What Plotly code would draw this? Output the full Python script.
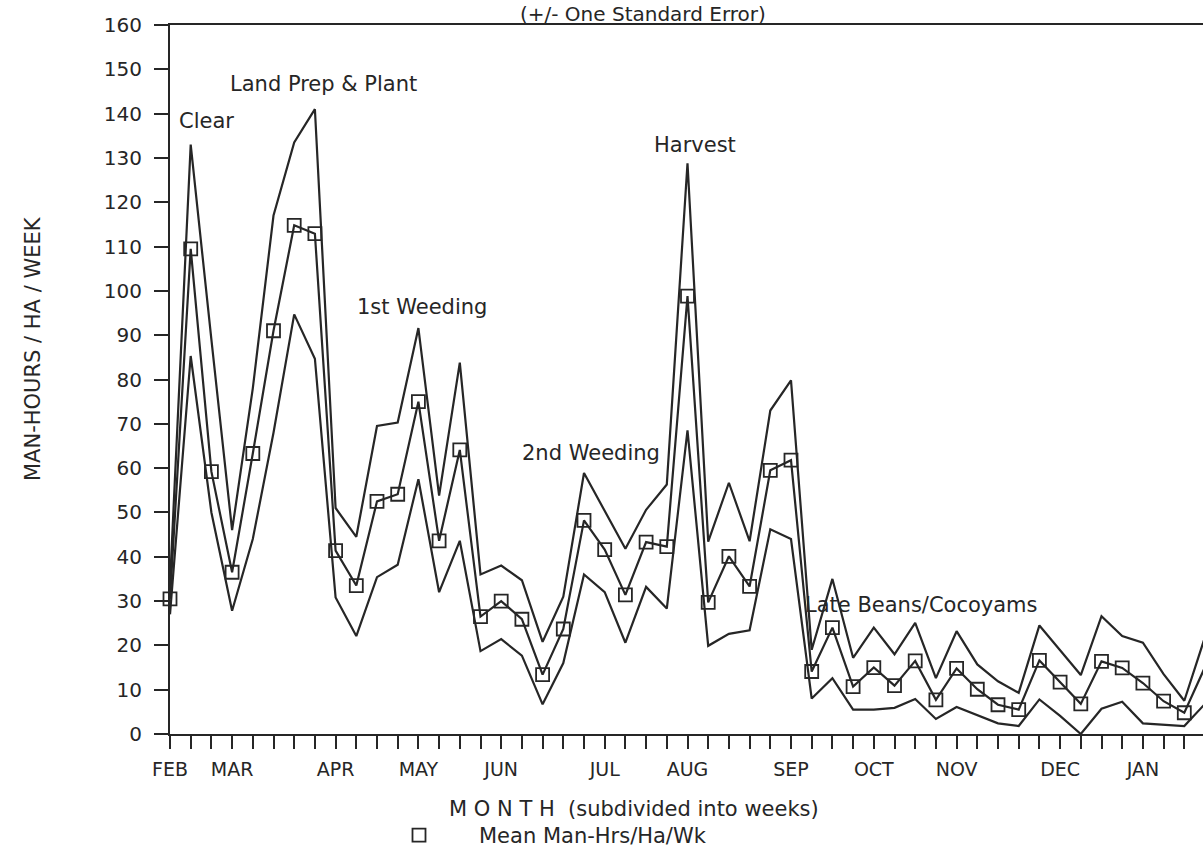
import plotly.graph_objects as go

# ---- data ----
weeks = list(range(51))
month_weeks = [0, 3, 8, 12, 16, 21, 25, 30, 34, 38, 43, 47]
month_names = ["FEB", "MAR", "APR", "MAY", "JUN", "JUL", "AUG", "SEP", "OCT", "NOV", "DEC", "JAN"]

upper = [34, 133, 89, 46, 78, 117, 133.5, 141, 51, 44.5, 69.5, 70.3, 91.6, 53.8, 83.8,
         36, 38, 34.7, 20.8, 31, 58.9, 50.5, 41.8, 50.6, 56.3, 128.8, 43.4, 56.7, 43.5, 73,
         79.8, 19, 35, 17.2, 24, 18, 25.1, 12.6, 23.2, 15.7, 11.9, 9.3, 24.5, 18.9, 13.3,
         26.6, 22.1, 20.6, 13.5, 7.5, 21.9]
mean = [30.5, 109.5, 59.2, 36.5, 63.3, 91, 114.8, 112.9, 41.4, 33.5, 52.5, 54.1, 75, 43.6, 64.1,
        26.5, 30, 25.9, 13.4, 23.7, 48.2, 41.6, 31.4, 43.3, 42.3, 98.8, 29.7, 40.1, 33.3, 59.5,
        61.8, 14.1, 24, 10.7, 15, 10.9, 16.5, 7.7, 14.8, 10.1, 6.6, 5.5, 16.6, 11.7, 6.8,
        16.4, 14.9, 11.5, 7.4, 4.8, 15.1]
lower = [27, 85.3, 50, 27.8, 44, 68, 94.7, 84.7, 30.8, 22.1, 35.4, 38.2, 57.5, 32, 43.6,
         18.7, 21.4, 17.7, 6.7, 16, 36, 32, 20.6, 33.2, 28.3, 68.5, 19.9, 22.6, 23.4, 46.2,
         44, 8, 12.6, 5.5, 5.5, 5.9, 7.9, 3.4, 6.1, 4.3, 2.4, 1.8, 7.8, 4.1, 0,
         5.7, 7.3, 2.4, 2.1, 1.8, 6.8]

labels_text = ["Clear", "Land Prep & Plant", "1st Weeding", "Harvest", "2nd Weeding", "Late Beans/Cocoyams"]
labels_x = [0.34, 2.8, 8.94, 23.3, 16.9, 30.6]
labels_y = [138.4, 146.7, 96.3, 133, 63.4, 29.1]

# ---- style ----
FONT = "DejaVu Sans"
INK = "#262626"
W, H = 1203, 861
ML, MT, MB = 170, 25, 127
plot_w = W - ML
plot_h = H - MT - MB
px_per_week = 20.7


def px_x(px):
    return (px - ML) / plot_w


def px_y(py):
    return (H - MB - py) / plot_h


ticktext = []
for w in weeks:
    ticktext.append(month_names[month_weeks.index(w)] if w in month_weeks else "")

fig = go.Figure()
fig.add_trace(go.Scatter(x=weeks, y=upper, mode="lines", line=dict(color=INK, width=2.2),
                         showlegend=False, hoverinfo="skip"))
fig.add_trace(go.Scatter(x=weeks, y=lower, mode="lines", line=dict(color=INK, width=2.2),
                         showlegend=False, hoverinfo="skip"))
fig.add_trace(go.Scatter(x=weeks, y=mean, mode="lines", line=dict(color=INK, width=2.2),
                         showlegend=False))
fig.add_trace(go.Scatter(x=weeks, y=mean, mode="markers", name="Mean Man-Hrs/Ha/Wk",
                         marker=dict(symbol="square-open", size=13, color=INK,
                                     line=dict(width=1.8, color=INK)),
                         cliponaxis=False, showlegend=True))

for t, x, y in zip(labels_text, labels_x, labels_y):
    fig.add_annotation(x=x, y=y, text=t, showarrow=False, xanchor="left", yanchor="middle",
                       font=dict(family=FONT, size=21, color=INK))

# title (at the very top)
fig.add_annotation(xref="paper", yref="paper", x=px_x(643), y=px_y(0),
                   text="(+/- One Standard Error)", showarrow=False, xanchor="center",
                   yanchor="top", font=dict(family=FONT, size=20, color=INK))
# x axis title
fig.add_annotation(xref="paper", yref="paper", x=px_x(447), y=px_y(809),
                   text="M O N T H  (subdivided into weeks)", showarrow=False, xanchor="left",
                   yanchor="middle", font=dict(family=FONT, size=21, color=INK))
# y axis title
fig.add_annotation(xref="paper", yref="paper", x=px_x(33), y=px_y(349),
                   text="MAN-HOURS / HA / WEEK", showarrow=False, textangle=-90,
                   xanchor="center", yanchor="middle", font=dict(family=FONT, size=21, color=INK))

fig.update_layout(
    width=W, height=H,
    margin=dict(l=ML, r=0, t=MT, b=MB, pad=0),
    paper_bgcolor="white", plot_bgcolor="white",
    font=dict(family=FONT, color=INK),
    showlegend=True,
    legend=dict(x=px_x(359), y=px_y(815), xanchor="left", yanchor="top",
                orientation="h", font=dict(family=FONT, size=21, color=INK),
                bgcolor="rgba(0,0,0,0)", itemwidth=110),
)
fig.update_xaxes(range=[0, plot_w / px_per_week], tickmode="array", tickvals=weeks,
                 ticktext=ticktext, ticks="outside", ticklen=13, tickwidth=2, tickcolor=INK,
                 showline=True, linewidth=2, linecolor=INK, mirror=True, showgrid=False,
                 zeroline=False, tickfont=dict(family=FONT, size=19, color=INK),
                 ticklabelstandoff=4)
fig.update_yaxes(range=[0, 160], dtick=10, tick0=0, ticks="outside", ticklen=14, tickwidth=2,
                 tickcolor=INK, showline=True, linewidth=2, linecolor=INK, mirror=False,
                 showgrid=False, zeroline=False, tickfont=dict(family=FONT, size=20, color=INK),
                 ticklabelstandoff=8)

fig.write_html("out.html")
